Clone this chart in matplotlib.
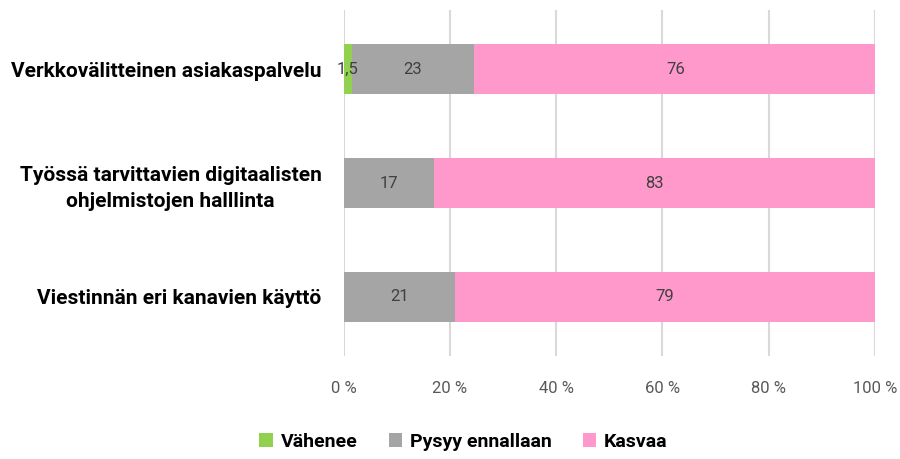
import matplotlib

matplotlib.use("Agg")
import matplotlib.pyplot as plt  # noqa: E402
from matplotlib.ticker import FuncFormatter  # noqa: E402

categories = [
    "Verkkovälitteinen asiakaspalvelu",
    "Työssä tarvittavien digitaalisten\nohjelmistojen halllinta",
    "Viestinnän eri kanavien käyttö",
]
series_names = ["Vähenee", "Pysyy ennallaan", "Kasvaa"]
vahenee = [1.5, 0, 0]
pysyy = [23, 17, 21]
kasvaa = [76, 83, 79]
colors = ["#92D050", "#A5A5A5", "#FF99CC"]
x_ticks = [0, 20, 40, 60, 80, 100]

plt.rcParams["font.family"] = ["Roboto", "DejaVu Sans"]

fig = plt.figure(figsize=(9, 4.59), dpi=100)
ax = fig.add_axes([0.382, 0.224, 0.59, 0.754])

ypos = list(range(len(categories)))
left = [0.0] * len(categories)
for name, vals, color in zip(series_names, [vahenee, pysyy, kasvaa], colors):
    bars = ax.barh(ypos, vals, left=left, height=0.44, color=color, label=name, zorder=3)
    for b, v in zip(bars, vals):
        if v > 0:
            txt = f"{v:g}".replace(".", ",")
            ax.text(b.get_x() + b.get_width() / 2, b.get_y() + b.get_height() / 2, txt,
                    ha="center", va="center", fontsize=12, color="#404040", zorder=4)
    left = [l + v for l, v in zip(left, vals)]

ax.set_xlim(0, 100)
ax.set_ylim(2.52, -0.52)
ax.set_xticks(x_ticks)
ax.xaxis.set_major_formatter(FuncFormatter(lambda v, p: f"{v:.0f} %"))
ax.tick_params(axis="x", length=0, pad=18, labelsize=12, labelcolor="#595959")
ax.set_yticks(ypos)
ax.set_yticklabels(categories, fontsize=15, fontweight="bold", color="#000000",
                   multialignment="center", linespacing=1.45)
ax.tick_params(axis="y", length=0, pad=16)
ax.grid(axis="x", color="#D9D9D9", linewidth=1.5, zorder=0)
for s in ax.spines.values():
    s.set_visible(False)

fig.legend(loc="lower center", bbox_to_anchor=(0.515, -0.02), ncol=3, frameon=False,
           prop={"size": 14, "weight": "bold"}, handlelength=0.7, handleheight=0.7,
           handletextpad=0.4, columnspacing=1.6)

fig.savefig("out.png", dpi=100)
